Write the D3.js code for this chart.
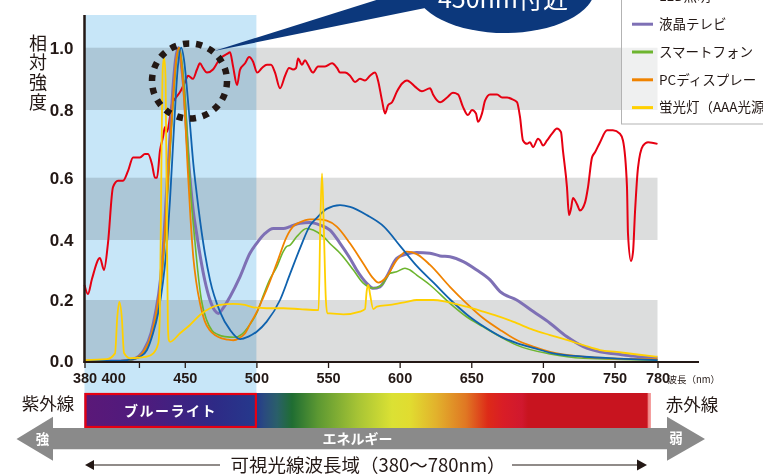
<!DOCTYPE html>
<html>
<head>
<meta charset="utf-8">
<script src="https://cdn.jsdelivr.net/npm/d3@7"></script>
<style>
  body { margin: 0; background: #fff; }
  svg { display: block; }
</style>
</head>
<body>
<svg id="chart" width="763" height="476"></svg>
<script>
// ---- data: relative spectral intensity, [wavelength nm, intensity] ----
const sunlight = [[380,0.25],[382.4,0.22],[385.2,0.27],[390.8,0.34],[393.6,0.30],[396.4,0.39],[399.9,0.57],[403.4,0.59],[406.9,0.59],[410.4,0.62],[413.9,0.66],[418.7,0.66],[422.2,0.67],[424.3,0.67],[427.1,0.64],[429.2,0.60],[430.6,0.60],[432.7,0.68],[434.8,0.72],[436.2,0.75],[437.6,0.735],[439.7,0.78],[441.1,0.82],[443.9,0.84],[447,0.86],[450.2,0.89],[452.3,0.91],[455.7,0.90],[458.5,0.93],[460.6,0.95],[462.7,0.935],[465.5,0.92],[469.7,0.93],[473.2,0.955],[476,0.97],[479.5,0.98],[481.6,0.985],[483.7,0.94],[486.5,0.88],[488.6,0.93],[492.1,0.95],[494.9,0.97],[497.7,0.955],[500.5,0.92],[503.9,0.935],[507.4,0.945],[510.2,0.945],[513,0.92],[516.5,0.87],[520,0.91],[522.8,0.935],[525.6,0.93],[527.7,0.935],[529.1,0.965],[531.8,0.945],[533.9,0.96],[536,0.945],[539.5,0.92],[543,0.94],[547.9,0.94],[552.8,0.95],[556.3,0.935],[558.4,0.92],[561.9,0.92],[565.4,0.91],[568.8,0.89],[572.3,0.90],[575.8,0.895],[579.3,0.91],[582.8,0.92],[584.9,0.895],[587.7,0.83],[589.8,0.79],[591.9,0.815],[594.7,0.825],[598.2,0.86],[601.7,0.885],[605.1,0.895],[607.2,0.89],[610.7,0.875],[615.6,0.86],[621.2,0.87],[623.3,0.85],[628.2,0.825],[633.1,0.84],[637.2,0.855],[640.7,0.85],[644.2,0.81],[647.7,0.785],[650.5,0.80],[653.3,0.79],[654.7,0.765],[657.5,0.79],[659.6,0.83],[663.1,0.85],[668,0.85],[671.5,0.84],[675,0.84],[678.4,0.835],[681.9,0.825],[684,0.78],[686.1,0.71],[688.9,0.70],[691,0.705],[693.1,0.69],[696.6,0.715],[698,0.71],[700.1,0.695],[702.9,0.71],[706.4,0.73],[709.8,0.745],[712.6,0.735],[714,0.68],[716.8,0.57],[718.2,0.48],[719.6,0.50],[721,0.535],[723.8,0.515],[725.9,0.495],[729.4,0.52],[731.5,0.57],[734.3,0.66],[736.4,0.675],[739.9,0.705],[744.8,0.74],[748.9,0.74],[753.8,0.73],[755.9,0.71],[758.7,0.57],[759.4,0.42],[761.5,0.33],[762.9,0.36],[764.3,0.49],[766.4,0.63],[769.9,0.695],[773.4,0.705],[780,0.70]];

const ledLight = [[380,0],[400,0],[410,0.003],[414,0.006],[418.7,0.014],[423.6,0.036],[427.8,0.09],[431.3,0.155],[434.8,0.26],[437.6,0.39],[439.7,0.53],[442.5,0.75],[445,0.93],[447.5,1.0],[449.5,0.96],[451.3,0.88],[453.6,0.76],[456,0.64],[458.3,0.55],[462.9,0.39],[467.6,0.267],[474.6,0.161],[481.6,0.102],[488.6,0.072],[494.4,0.08],[500.2,0.096],[507.2,0.129],[516.5,0.2],[523.5,0.287],[530.5,0.373],[537.5,0.447],[542,0.47],[549,0.5],[558.4,0.512],[565.4,0.506],[577,0.48],[589,0.443],[600.7,0.378],[612.4,0.311],[624,0.256],[635.6,0.2],[647.3,0.151],[659,0.112],[670.6,0.08],[682.2,0.058],[693.9,0.042],[705.5,0.027],[728.8,0.014],[752,0.008],[780,0.003]];

const lcdTv = [[380,0],[405,0],[414,0.006],[421.5,0.036],[426.5,0.092],[429.5,0.157],[433,0.267],[435.3,0.4],[437.1,0.54],[439.9,0.74],[441.6,0.86],[443.5,0.96],[445.5,1.0],[447.5,0.95],[449.5,0.86],[451.5,0.72],[453.8,0.59],[456,0.49],[458.3,0.42],[461,0.34],[464,0.265],[467.6,0.2],[471,0.165],[473.4,0.156],[477,0.175],[481.6,0.211],[488.6,0.278],[495.5,0.356],[500.2,0.389],[506,0.421],[511.8,0.437],[518.8,0.437],[523.5,0.443],[530.4,0.454],[537.4,0.456],[544.4,0.448],[551.4,0.432],[558.4,0.389],[565.3,0.339],[570,0.30],[577,0.256],[581.6,0.239],[586.3,0.244],[591,0.278],[597.9,0.339],[604.9,0.353],[611.9,0.358],[621.2,0.356],[628.2,0.347],[635.1,0.344],[644.4,0.328],[653.8,0.30],[663.1,0.267],[670.1,0.228],[681.7,0.2],[693.3,0.162],[705,0.124],[716.6,0.08],[728.2,0.047],[739.9,0.03],[751.5,0.023],[763.1,0.016],[780,0.009]];

const smartphone = [[380,0],[405,0],[414.3,0.006],[422.3,0.036],[427.3,0.092],[430.3,0.157],[433.7,0.267],[436.1,0.4],[437.9,0.54],[440.7,0.74],[442.4,0.86],[444.3,0.96],[446.3,1.0],[448.3,0.94],[450.3,0.83],[452.3,0.68],[454.5,0.53],[457,0.40],[459,0.3],[461.6,0.2],[465.3,0.134],[469,0.1],[473,0.087],[478,0.08],[485,0.078],[490,0.088],[495.5,0.12],[500,0.155],[504.8,0.215],[509,0.265],[514.2,0.31],[518.8,0.362],[521,0.378],[523.5,0.383],[528.2,0.411],[535.1,0.437],[539.7,0.432],[546.7,0.411],[552,0.385],[558.4,0.356],[567.7,0.30],[574.6,0.256],[581.6,0.239],[587.5,0.25],[593.3,0.289],[597.9,0.294],[603.7,0.306],[607.2,0.30],[611.9,0.283],[621.2,0.25],[635.1,0.189],[646.7,0.145],[658.4,0.112],[670.1,0.08],[681.7,0.052],[705,0.023],[728.2,0.009],[780,0.003]];

const pcDisplay = [[380,0],[405,0],[414,0.006],[422,0.036],[427,0.092],[430,0.157],[433.4,0.267],[435.8,0.4],[437.6,0.54],[440.4,0.74],[442.1,0.86],[444,0.96],[446,1.0],[448,0.93],[450,0.8],[452,0.63],[454,0.47],[456,0.34],[458,0.26],[460.6,0.19],[464,0.13],[467.6,0.1],[471,0.085],[475.8,0.074],[480,0.07],[484,0.068],[488,0.075],[492,0.09],[496,0.125],[500.2,0.16],[504,0.2],[507.2,0.235],[514.2,0.322],[521.2,0.411],[526,0.445],[530.4,0.457],[537.4,0.466],[543,0.466],[549.1,0.462],[556.1,0.443],[565.3,0.389],[574.6,0.322],[581.6,0.272],[585.1,0.258],[591,0.278],[597.9,0.333],[604.9,0.361],[611.9,0.353],[621.2,0.317],[635.1,0.244],[646.7,0.189],[658.4,0.14],[670.1,0.102],[681.7,0.069],[693.3,0.047],[705,0.03],[728.2,0.014],[751.5,0.008],[780,0.006]];

const fluorescent = [[380,0.003],[395.5,0.006],[401.3,0.025],[402.9,0.145],[404.3,0.194],[406,0.145],[407.6,0.026],[411.8,0.009],[423.4,0.014],[428,0.025],[431.5,0.058],[432.6,0.15],[433.6,0.6],[434.6,0.93],[435.6,0.97],[436.6,0.9],[437.4,0.5],[438.2,0.12],[438.8,0.07],[439.7,0.063],[446.7,0.091],[453.6,0.118],[460.6,0.151],[467.6,0.173],[474.6,0.184],[483.9,0.187],[492,0.184],[497.8,0.176],[507.2,0.173],[518.8,0.173],[530.4,0.17],[543.4,0.167],[544.6,0.45],[545.8,0.613],[547,0.45],[548.5,0.2],[549.5,0.156],[551.4,0.156],[560.7,0.153],[572.3,0.162],[575.8,0.17],[577,0.23],[578.1,0.25],[579.3,0.22],[581.6,0.17],[584.1,0.178],[593.3,0.184],[604.9,0.194],[611.9,0.2],[623.5,0.2],[632.8,0.194],[646.8,0.178],[658.4,0.162],[670.1,0.145],[681.7,0.124],[693.3,0.102],[705,0.085],[716.6,0.069],[728.2,0.052],[739.9,0.036],[751.5,0.03],[763.1,0.023],[780,0.014]];

const seriesNames  = ["太陽光", "LED照明", "液晶テレビ", "スマートフォン", "PCディスプレー", "蛍光灯（AAA光源）"];
const seriesData   = [sunlight, ledLight, lcdTv, smartphone, pcDisplay, fluorescent];
const seriesColors = ["#e60012", "#0f62ae", "#7e70b5", "#6db52f", "#f08300", "#ffd000"];
const seriesWidths = [2, 1.8, 3, 1.6, 1.8, 1.8];
const drawOrder    = [0, 2, 3, 4, 1, 5];

const yTicks      = [0, 0.2, 0.4, 0.6, 0.8, 1.0];
const xTickMarks  = [380, 418, 450, 500, 550, 600, 650, 700, 750, 780];
const xTickLabels = [380, 400, 450, 500, 550, 600, 650, 700, 750, 780];
const shadedBands = [[0.8, 1.0], [0.4, 0.6], [0, 0.2]];
const blueLightRange = [380, 500];

const jp  = "'Noto Sans CJK JP','Noto Sans',sans-serif";
const num = "'Liberation Sans Narrow','Arial Narrow','Liberation Sans',sans-serif";
const ink = "#231815";

const svg = d3.select("#chart");
const defs = svg.append("defs");

// ---- scales ----
const x = d3.scaleLinear().domain([380, 780]).range([84.5, 657.5]);
const y = d3.scaleLinear().domain(yTicks).range([361, 300, 240, 177.7, 110, 47.7]);

// ---- background: blue-light region and shaded bands ----
svg.append("rect")
  .attr("x", x(blueLightRange[0])).attr("y", 15)
  .attr("width", x(blueLightRange[1]) - x(blueLightRange[0])).attr("height", 393 - 15)
  .attr("fill", "#c7e6f8");

svg.append("g").selectAll("rect").data(shadedBands).join("rect")
  .attr("x", x(380)).attr("width", x(780) - x(380))
  .attr("y", d => y(d[1])).attr("height", d => y(d[0]) - y(d[1]))
  .attr("fill", "#dcdddd")
  .style("mix-blend-mode", "multiply");

// ---- spectrum lines ----
const line = d3.line().x(d => x(d[0])).y(d => y(d[1])).curve(d3.curveMonotoneX);
svg.append("g").selectAll("path").data(drawOrder).join("path")
  .attr("d", i => line(seriesData[i]))
  .attr("fill", "none")
  .attr("stroke", i => seriesColors[i])
  .attr("stroke-width", i => seriesWidths[i])
  .attr("stroke-linejoin", "round");

// ---- axes ----
const xMarks = svg.append("g").attr("transform", "translate(0,362)")
  .call(d3.axisBottom(x).tickValues(xTickMarks).tickSize(6).tickFormat(""));
xMarks.select(".domain").remove();
xMarks.selectAll(".tick line").attr("stroke", ink).attr("stroke-width", 1.3);

const xLabels = svg.append("g").attr("transform", "translate(0,362)")
  .call(d3.axisBottom(x).tickValues(xTickLabels).tickSize(0).tickPadding(11));
xLabels.select(".domain").remove();
xLabels.selectAll("text")
  .attr("fill", ink).style("font-family", num).style("font-weight", "bold").style("font-size", "14.5px");

svg.append("line")
  .attr("x1", x(380) - 1).attr("x2", x(780) + 41.5).attr("y1", 362).attr("y2", 362)
  .attr("stroke", ink).attr("stroke-width", 2);

svg.append("text").attr("x", x(780) + 10).attr("y", 383)
  .attr("fill", ink).style("font-family", jp).style("font-size", "9.5px")
  .text("波長（nm）");

const yAxis = svg.append("g").attr("transform", `translate(${x(380)},0)`)
  .call(d3.axisLeft(y).tickValues(yTicks).tickSize(0).tickPadding(11).tickFormat(d3.format(".1f")));
yAxis.select(".domain").remove();
yAxis.selectAll("text")
  .attr("fill", ink).style("font-family", num).style("font-weight", "bold").style("font-size", "17px");

svg.append("line")
  .attr("x1", x(380)).attr("x2", x(380)).attr("y1", 15).attr("y2", 363)
  .attr("stroke", ink).attr("stroke-width", 2.5);

// vertical axis title, set top-to-bottom
svg.append("text")
  .attr("x", 38).attr("y", 34)
  .attr("fill", ink)
  .style("writing-mode", "vertical-rl")
  .style("text-orientation", "upright")
  .style("letter-spacing", "1.6px")
  .style("font-family", jp).style("font-size", "18px")
  .text("相対強度");

// ---- callout for the blue peak ----
svg.append("circle")
  .attr("cx", 189.5).attr("cy", 81).attr("r", 37.5)
  .attr("fill", "none").attr("stroke", ink).attr("stroke-width", 6.5)
  .attr("pathLength", 180).attr("stroke-dasharray", "4.8 5.2");

svg.append("path")
  .attr("d", "M214,51 L440,-20 L440,5 Z")
  .attr("fill", "#0c387c");
svg.append("ellipse")
  .attr("cx", 505).attr("cy", -12).attr("rx", 90).attr("ry", 45)
  .attr("fill", "#0c387c");
svg.append("text").attr("x", 503).attr("y", 7.5).attr("text-anchor", "middle")
  .attr("fill", "#fff").style("font-family", jp).style("font-size", "25px")
  .text("450nm付近");

// ---- legend ----
const legendStep = 27.8, legendFirst = -31.4;
svg.append("rect")
  .attr("x", 621.5).attr("y", -10).attr("width", 170).attr("height", 134)
  .attr("fill", "#fff").attr("fill-opacity", 0.55)
  .attr("stroke", "#b3b3b3").attr("stroke-width", 1);
const legend = svg.append("g").selectAll("g").data(seriesNames).join("g")
  .attr("transform", (d, i) => `translate(0,${legendFirst + i * legendStep})`);
legend.append("line")
  .attr("x1", 632).attr("x2", 653).attr("y1", 0).attr("y2", 0)
  .attr("stroke", (d, i) => seriesColors[i]).attr("stroke-width", 3);
legend.append("text")
  .attr("x", 659).attr("y", 0).attr("dy", "0.36em")
  .attr("fill", ink).style("font-family", jp).style("font-size", "13.5px")
  .text(d => d);

// ---- visible spectrum colour bar ----
const grad = defs.append("linearGradient").attr("id", "spectrum")
  .attr("gradientUnits", "userSpaceOnUse")
  .attr("x1", x(380)).attr("x2", 651).attr("y1", 0).attr("y2", 0);
const spectrumStops = [
  [84.5, "#5b1878"], [150, "#4c1c7e"], [215, "#2e2a86"], [256, "#25398c"],
  [264, "#2a4a80"], [277, "#2a5f6a"], [292, "#1f6d32"], [318, "#5c9832"],
  [358, "#a7c435"], [392, "#dbe134"], [410, "#e1dc30"], [436, "#e2b22c"],
  [466, "#e07723"], [488, "#dd2a18"], [503, "#d91d26"], [522, "#d0182e"],
  [528, "#c8141f"], [647, "#c8141f"], [648.5, "#f08585"], [651, "#f5a5a5"]
];
grad.selectAll("stop").data(spectrumStops).join("stop")
  .attr("offset", d => (d[0] - x(380)) / (651 - x(380)))
  .attr("stop-color", d => d[1]);
svg.append("rect")
  .attr("x", x(380)).attr("y", 393).attr("width", 651 - x(380)).attr("height", 35)
  .attr("fill", "url(#spectrum)");
svg.append("rect")
  .attr("x", x(380) + 1).attr("y", 394).attr("width", x(500) - x(380) - 1.5).attr("height", 33)
  .attr("fill", "none").attr("stroke", "#e60012").attr("stroke-width", 2.2);
svg.append("text").attr("x", (x(380) + x(500)) / 2).attr("y", 411).attr("dy", "0.36em")
  .attr("text-anchor", "middle").attr("fill", "#fff")
  .style("font-family", jp).style("font-weight", "bold").style("font-size", "14px")
  .style("letter-spacing", "1.5px")
  .text("ブルーライト");

svg.append("text").attr("x", 48).attr("y", 404).attr("dy", "0.36em")
  .attr("text-anchor", "middle").attr("fill", ink)
  .style("font-family", jp).style("font-size", "17.5px").text("紫外線");
svg.append("text").attr("x", 692).attr("y", 405).attr("dy", "0.36em")
  .attr("text-anchor", "middle").attr("fill", ink)
  .style("font-family", jp).style("font-size", "17.5px").text("赤外線");

// ---- energy arrow ----
svg.append("path")
  .attr("d", "M16.5,439 L53,416.7 L53,428 L667,428 L667,416.7 L705,439 L667,460.7 L667,449.3 L53,449.3 L53,460.7 Z")
  .attr("fill", "#8a8a8a");
const whiteBold = s => s.attr("fill", "#fff").attr("text-anchor", "middle").attr("dy", "0.36em")
  .style("font-family", jp).style("font-weight", "bold").style("font-size", "13.5px");
svg.append("text").attr("x", 42.5).attr("y", 439).call(whiteBold).text("強");
svg.append("text").attr("x", 676).attr("y", 438.5).call(whiteBold).text("弱");
svg.append("text").attr("x", 357.5).attr("y", 439).call(whiteBold).style("font-size", "14px").text("エネルギー");

// ---- visible range caption ----
svg.append("text").attr("x", 368).attr("y", 465).attr("dy", "0.36em")
  .attr("text-anchor", "middle").attr("fill", ink)
  .style("font-family", jp).style("font-size", "18.5px")
  .text("可視光線波長域（380〜780nm）");
svg.append("line").attr("x1", 92).attr("x2", 220).attr("y1", 465).attr("y2", 465)
  .attr("stroke", ink).attr("stroke-width", 1.2);
svg.append("path").attr("d", "M85,465 L94,460 L94,470 Z").attr("fill", ink);
svg.append("line").attr("x1", 512).attr("x2", 640).attr("y1", 465).attr("y2", 465)
  .attr("stroke", ink).attr("stroke-width", 1.2);
svg.append("path").attr("d", "M647,465 L637,459.5 L637,470.5 Z").attr("fill", ink);
</script>
</body>
</html>
